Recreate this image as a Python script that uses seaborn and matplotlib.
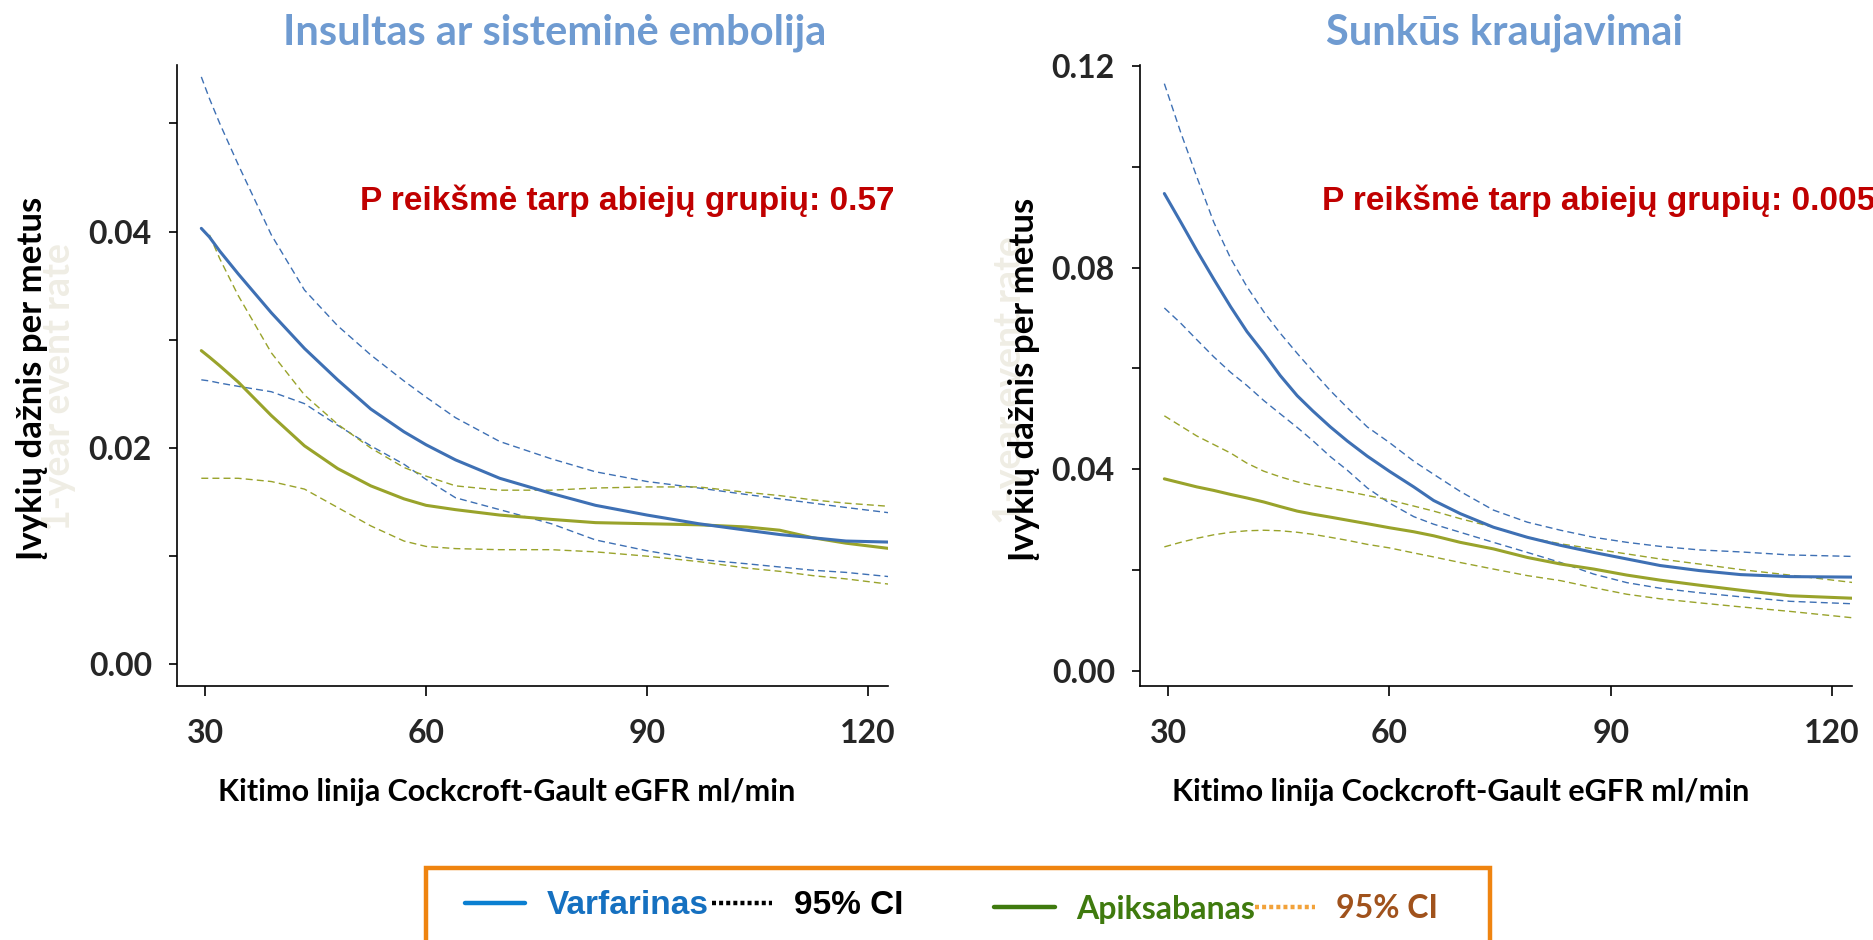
import numpy as np
import pandas as pd
import seaborn as sns
import matplotlib
matplotlib.use("Agg")
import matplotlib.pyplot as plt
from matplotlib.lines import Line2D
from matplotlib.patches import Rectangle
from matplotlib.ticker import MultipleLocator, FormatStrFormatter
from matplotlib.font_manager import FontProperties

# ---------------- data ----------------
egfr_left = [29.5, 30.6, 32, 34.5, 39, 43.5, 48, 52.5, 57, 60, 64, 70, 77, 83, 90, 97, 103.5, 108, 112.5, 117, 123]
warf_left_est = [.0403, .0395, .0382, .0361, .0325, .0292, .0263, .0236, .0215, .0203, .0189, .0172, .0158, .0147, .0138, .0130, .0124, .0120, .0117, .0114, .0113]
warf_left_hi = [.0543, .0523, .0500, .0462, .0397, .0346, .0313, .0286, .0262, .0247, .0228, .0206, .0190, .0178, .0169, .0163, .0157, .0153, .0149, .0145, .0140]
warf_left_lo = [.0263, .0262, .0260, .0257, .0252, .0241, .0221, .0202, .0185, .0171, .0154, .0143, .0130, .0115, .0105, .0097, .0093, .0090, .0087, .0085, .0081]
apix_left_est = [.0290, .0284, .0276, .0261, .0230, .0202, .0181, .0165, .0153, .0147, .0143, .0138, .0134, .0131, .0130, .0129, .0127, .0124, .0117, .0112, .0107]
apix_left_hi = [np.nan, .0397, .0375, .0341, .0288, .0249, .0222, .0200, .0182, .0174, .0165, .0161, .0161, .0163, .0164, .0164, .0159, .0156, .0152, .0149, .0146]
apix_left_lo = [.0172, .0172, .0172, .0172, .0169, .0162, .0145, .0128, .0114, .0109, .0107, .0106, .0106, .0104, .0100, .0095, .0089, .0086, .0082, .0079, .0074]

egfr_right = [29.5, 31.7, 33.9, 36.2, 38.5, 40.7, 43, 45.2, 47.5, 49.6, 52, 54.3, 57, 60, 63.3, 66, 69.6, 74.1, 78.7, 83.2, 87.7, 92.2, 96.7, 102, 107.6, 114.3, 123]
warf_right_est = [.0947, .0891, .0834, .0777, .0722, .0673, .0630, .0586, .0546, .0516, .0484, .0456, .0426, .0396, .0365, .0338, .0312, .0285, .0265, .0249, .0235, .0222, .0209, .0199, .0191, .0187, .0186]
warf_right_hi = [.1165, .1069, .0980, .0890, .0818, .0762, .0712, .0670, .0630, .0595, .0556, .0522, .0484, .0453, .0416, .0390, .0356, .0319, .0295, .0279, .0265, .0255, .0247, .0240, .0236, .0230, .0227]
warf_right_lo = [.0720, .0690, .0657, .0623, .0592, .0566, .0536, .0510, .0483, .0457, .0425, .0398, .0363, .0333, .0306, .0291, .0275, .0255, .0235, .0215, .0192, .0175, .0164, .0155, .0147, .0138, .0133]
apix_right_est = [.0381, .0373, .0365, .0358, .0350, .0343, .0335, .0326, .0317, .0311, .0305, .0299, .0292, .0284, .0276, .0268, .0255, .0242, .0225, .0212, .0202, .0190, .0180, .0170, .0160, .0149, .0144]
apix_right_hi = [.0506, .0486, .0466, .0449, .0432, .0412, .0396, .0385, .0375, .0368, .0362, .0356, .0348, .0339, .0327, .0317, .0302, .0285, .0265, .0252, .0242, .0232, .0222, .0212, .0201, .0190, .0175]
apix_right_lo = [.0246, .0255, .0263, .0270, .0275, .0278, .0279, .0278, .0275, .0271, .0265, .0259, .0251, .0244, .0234, .0226, .0215, .0202, .0189, .0179, .0165, .0152, .0143, .0135, .0127, .0118, .0105]

titles = ["Insultas ar sisteminė embolija", "Sunkūs kraujavimai"]
p_texts = ["P reikšmė tarp abiejų grupių: 0.57", "P reikšmė tarp abiejų grupių: 0.005"]
x_label = "Kitimo linija Cockcroft-Gault eGFR ml/min"
y_label = "Įvykių dažnis per metus"
ghost_label = "1-year event rate"
x_ticks = [30, 60, 90, 120]
legend_warf = ["Varfarinas", "95% CI"]
legend_apix = ["Apiksabanas", "95% CI"]

# ---------------- style ----------------
sns.set_theme(style="ticks")
plt.rcParams["font.family"] = ["Lato", "DejaVu Sans"]
plt.rcParams["font.weight"] = "bold"

BLUE = "#3E70B4"
GREEN = "#99A32B"
TITLE_C = "#6F9BD1"
RED = "#C00000"

W, H = 1874, 940
fig = plt.figure(figsize=(W / 100, H / 100), dpi=100)

def fx(px):
    return px / W

def fy(py):
    return 1 - py / H

ax_l = fig.add_axes([fx(177), fy(686), fx(888) - fx(177), fy(65) - fy(686)])
ax_r = fig.add_axes([fx(1140), fy(686), fx(1852) - fx(1140), fy(65) - fy(686)])

dash = (0, (5, 3))

def draw(ax, x, est_w, lo_w, hi_w, est_a, lo_a, hi_a):
    df = pd.DataFrame({"egfr": x, "we": est_w, "wl": lo_w, "wh": hi_w,
                       "ae": est_a, "al": lo_a, "ah": hi_a})
    for col, c in [("wh", BLUE), ("wl", BLUE), ("ah", GREEN), ("al", GREEN)]:
        sns.lineplot(data=df, x="egfr", y=col, ax=ax, color=c, linewidth=1.0,
                     linestyle=dash, estimator=None)
    sns.lineplot(data=df, x="egfr", y="ae", ax=ax, color=GREEN, linewidth=2.2, estimator=None)
    sns.lineplot(data=df, x="egfr", y="we", ax=ax, color=BLUE, linewidth=2.2, estimator=None)
    ax.set_xlabel("")
    ax.set_ylabel("")

draw(ax_l, egfr_left, warf_left_est, warf_left_lo, warf_left_hi,
     apix_left_est, apix_left_lo, apix_left_hi)
draw(ax_r, egfr_right, warf_right_est, warf_right_lo, warf_right_hi,
     apix_right_est, apix_right_lo, apix_right_hi)

for ax in (ax_l, ax_r):
    ax.set_xlim(26.2, 122.7)
    ax.set_xticks(x_ticks)
    for s in ("top", "right"):
        ax.spines[s].set_visible(False)
    for s in ("left", "bottom"):
        ax.spines[s].set_color("black")
        ax.spines[s].set_linewidth(1.2)
    ax.tick_params(axis="x", which="both", length=7, width=1.2, color="black",
                   pad=17, labelsize=23)
    ax.tick_params(axis="y", which="both", length=6, width=1.2, color="black",
                   pad=12, labelsize=23)
    ax.set_facecolor("white")

ax_l.set_ylim(-0.0020, 0.0554)
ax_l.yaxis.set_major_locator(MultipleLocator(0.02))
ax_l.yaxis.set_minor_locator(MultipleLocator(0.01))
ax_l.yaxis.set_major_formatter(FormatStrFormatter("%.2f"))

ax_r.set_ylim(-0.003, 0.1202)
ax_r.yaxis.set_major_locator(MultipleLocator(0.04))
ax_r.yaxis.set_minor_locator(MultipleLocator(0.02))
ax_r.yaxis.set_major_formatter(FormatStrFormatter("%.2f"))

for ax in (ax_l, ax_r):
    for lab in ax.get_xticklabels() + ax.get_yticklabels():
        lab.set_fontweight("bold")
        lab.set_fontsize(23)

# ---------------- texts ----------------
ghost_c = "#EFEDE4"
fig.text(fx(59), fy(387), ghost_label, rotation=90, ha="center", va="center",
         fontsize=27, color=ghost_c, fontweight="bold")
fig.text(fx(1010), fy(380), ghost_label, rotation=90, ha="center", va="center",
         fontsize=27, color=ghost_c, fontweight="bold")

fig.text(fx(32), fy(378), y_label, rotation=90, ha="center", va="center",
         fontsize=25, fontweight="bold", color="black")
fig.text(fx(1024), fy(379), y_label, rotation=90, ha="center", va="center",
         fontsize=25, fontweight="bold", color="black")

fig.text(fx(555), fy(45), titles[0], ha="center", va="baseline",
         fontsize=30, fontweight="bold", color=TITLE_C)
fig.text(fx(1505), fy(45), titles[1], ha="center", va="baseline",
         fontsize=30, fontweight="bold", color=TITLE_C)

fig.text(fx(507), fy(801), x_label, ha="center", va="baseline",
         fontsize=22, fontweight="bold", color="black")
fig.text(fx(1461), fy(801), x_label, ha="center", va="baseline",
         fontsize=22, fontweight="bold", color="black")

pfont = FontProperties(family=["Liberation Sans", "DejaVu Sans"], weight="bold", size=24)
fig.text(fx(895), fy(210), p_texts[0], ha="right", va="baseline",
         fontproperties=pfont, color=RED)
fig.text(fx(1322), fy(210), p_texts[1], ha="left", va="baseline",
         fontproperties=pfont, color=RED)

# ---------------- legend ----------------
fig.add_artist(Rectangle((fx(426), -0.05), fx(1490) - fx(426), fy(868) + 0.05,
                         transform=fig.transFigure, fill=False,
                         edgecolor="#EF8410", linewidth=3.2, clip_on=False))

h_w = [Line2D([], [], color="#0B7FD1", lw=3.2),
       Line2D([], [], color="black", lw=3.2, linestyle=(0, (0.9, 0.7)))]
fig.legend(h_w, legend_warf, ncol=2, loc="center left",
           bbox_to_anchor=(fx(465), fy(906)), frameon=False,
           prop=FontProperties(family=["Liberation Sans", "DejaVu Sans"], weight="bold", size=24),
           handlelength=1.8, handletextpad=0.66, columnspacing=0.1,
           borderpad=0, borderaxespad=0, labelcolor=["#1570C0", "black"])

h_a = [Line2D([], [], color="#3F7A0E", lw=3.2),
       Line2D([], [], color="#F2A23A", lw=3.2, linestyle=(0, (0.9, 0.7)))]
narrow = FontProperties(family=["Lato", "DejaVu Sans"], weight="bold", size=23)
fig.legend(h_a, legend_apix, ncol=2, loc="center left",
           bbox_to_anchor=(fx(994), fy(909)), frameon=False, prop=narrow,
           handlelength=1.9, handletextpad=0.66, columnspacing=0.0,
           borderpad=0, borderaxespad=0, labelcolor=["#3F7A0E", "#A0521C"])

fig.savefig("out.png", dpi=100, facecolor="white")
